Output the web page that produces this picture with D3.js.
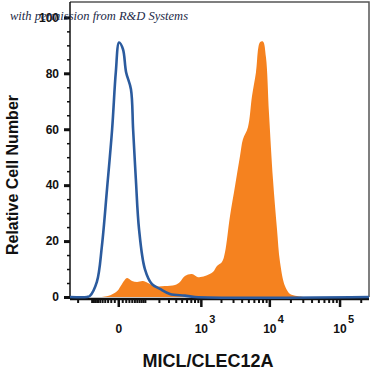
<html>
<head>
<style>
body { margin: 0; background: #fff; }
.tick text { font-family: "Liberation Sans", Arial, sans-serif; font-weight: bold; font-size: 12px; fill: #111; }
.title { font-family: "Liberation Sans", Arial, sans-serif; font-weight: bold; fill: #111; }
.credit { font-family: "Liberation Serif", "DejaVu Serif", serif; font-style: italic; font-size: 12.5px; fill: #1c2a48; }
</style>
</head>
<body>
<svg width="371" height="372"></svg>
<script src="https://d3js.org/d3.v7.min.js"></script>
<script>
// isotype control (blue outline)
var isoX = [-277, -128, -110, -73, -51, -32, -16, -6, 2, 12, 21, 37, 45, 56, 70, 100, 145, 210, 318, 565, 813, 262144]
var isoY = [0, 0, 0.4, 5.4, 18.2, 38.6, 60, 80.4, 91, 88.6, 80.4, 74.3, 60, 42.1, 24.3, 10, 4.6, 2.9, 1.1, 0.5, 0, 0]

// MICL/CLEC12A stained (orange fill)
var stainX = [-68, -29, -3, 9, 24, 41, 61, 89, 118, 167, 259, 388, 469, 565, 730, 904, 1156, 1520, 1744, 2067, 2290, 2708, 3204, 3787, 4176, 4932, 5636, 6436, 7347, 8100, 8950, 9886, 11270, 12860, 14200, 16730, 19720, 24780, 32230]
var stainY = [0, 0.4, 2.1, 4.6, 6.8, 5.7, 5.4, 5.7, 5.0, 3.9, 3.9, 4.3, 5.4, 7.5, 8.2, 7.1, 7.5, 8.9, 11.1, 12.5, 16, 28.9, 39.6, 50.4, 56.4, 60.7, 71.8, 80.4, 91.1, 91.4, 85.7, 65.7, 42.1, 24.3, 12.5, 3.9, 1.1, 0.4, 0]

var yMajor = [0, 20, 40, 60, 80, 100]
var xMajor = [0, 1e3, 1e4, 1e5]
var xMajorLabels = [["0", ""], ["10", "3"], ["10", "4"], ["10", "5"]]

const svg = d3.select('svg')
const mLeft = 70, mRight = 369, mTop = 2, mBottom = 297

const x = d3.scaleSymlog().constant(72).domain([-277, 262144]).range([mLeft, mRight])
const y = d3.scaleLinear().domain([0, 105.5]).range([mBottom, mTop])

// minor tick values on the logicle-like axis
var xMinor = []
d3.range(10, 100, 10).forEach(function (v) { xMinor.push(v, -v) })
d3.range(100, 300, 100).forEach(function (v) { xMinor.push(-v) })
;[100, 1e3, 1e4, 1e5].forEach(function (dec) {
    d3.range(2, 10).forEach(function (m) { if (m * dec < 262144) xMinor.push(m * dec) })
})
xMinor.push(100)
var yMinor = d3.range(0, 105, 5).filter(function (v) { return v % 20 !== 0 })

const stainData = stainX.map(function (v, i) { return [v, stainY[i]] })
const isoData = isoX.map(function (v, i) { return [v, isoY[i]] })

const area = d3.area()
    .x(function (d) { return x(d[0]) })
    .y0(y(0))
    .y1(function (d) { return y(d[1]) })
    .curve(d3.curveCatmullRom)

const line = d3.line()
    .x(function (d) { return x(d[0]) })
    .y(function (d) { return y(d[1]) })
    .curve(d3.curveCatmullRom)

svg.append('path')
    .datum(stainData)
    .attr('d', area)
    .attr('fill', '#f5821f')

// frame (top and right)
svg.append('path')
    .attr('d', 'M' + mLeft + ',' + mTop + 'H' + mRight + 'V' + mBottom)
    .attr('fill', 'none')
    .attr('stroke', '#555')
    .attr('stroke-width', 1.5)

// y axis
const yAxis = svg.append('g').attr('transform', 'translate(' + mLeft + ',0)')
yAxis.call(d3.axisLeft(y).tickValues(yMinor).tickSize(3).tickFormat(''))
yAxis.selectAll('.tick line').attr('stroke', '#111').attr('stroke-width', 1.5)
yAxis.select('.domain').attr('stroke', '#111').attr('stroke-width', 1.5)
    .attr('d', 'M0,' + (mBottom + 2) + 'V' + mTop)
const yMaj = svg.append('g').attr('transform', 'translate(' + mLeft + ',0)')
    .call(d3.axisLeft(y).tickValues(yMajor).tickSize(6).tickPadding(5))
yMaj.selectAll('.tick line').attr('stroke', '#111').attr('stroke-width', 3)
yMaj.select('.domain').remove()

// x axis
const xAxis = svg.append('g').attr('transform', 'translate(0,' + (mBottom + 2) + ')')
xAxis.call(d3.axisBottom(x).tickValues(xMinor).tickSize(4).tickFormat(''))
xAxis.selectAll('.tick line').attr('stroke', '#111').attr('stroke-width', 2)
xAxis.select('.domain').attr('stroke', '#111').attr('stroke-width', 2.5)
    .attr('d', 'M' + mLeft + ',0H' + mRight)
const xMaj = svg.append('g').attr('transform', 'translate(0,' + (mBottom + 2) + ')')
    .call(d3.axisBottom(x).tickValues(xMajor).tickSize(8).tickFormat(''))
xMaj.selectAll('.tick line').attr('stroke', '#111').attr('stroke-width', 2.5)
xMaj.select('.domain').remove()
xMaj.selectAll('.tick').each(function (d, i) {
    d3.select(this).append('text')
        .attr('y', 34)
        .attr('text-anchor', 'middle')
        .text(xMajorLabels[i][0])
    if (xMajorLabels[i][1]) {
        d3.select(this).append('text')
            .attr('x', 8)
            .attr('y', 24)
            .attr('text-anchor', 'start')
            .style('font-size', '11px')
            .text(xMajorLabels[i][1])
    }
})

// isotype outline drawn over the axis line, as in the original
svg.append('path')
    .datum(isoData)
    .attr('d', line)
    .attr('fill', 'none')
    .attr('stroke', '#2b5b9e')
    .attr('stroke-width', 2.6)

// titles
svg.append('text')
    .attr('class', 'title')
    .attr('transform', 'translate(18,175) rotate(-90)')
    .attr('text-anchor', 'middle')
    .style('font-size', '16px')
    .text('Relative Cell Number')

svg.append('text')
    .attr('class', 'title')
    .attr('x', 208)
    .attr('y', 367)
    .attr('text-anchor', 'middle')
    .style('font-size', '18px')
    .text('MICL/CLEC12A')

svg.append('text')
    .attr('class', 'credit')
    .attr('x', 10)
    .attr('y', 20)
    .text('with permission from R&D Systems')
</script>
</body>
</html>
